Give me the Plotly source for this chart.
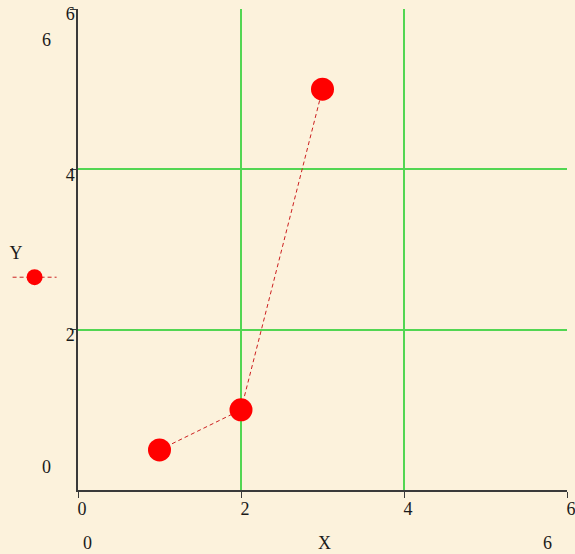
import plotly.graph_objects as go

# Series values
x_vals = [1, 2, 3]
y_vals = [0.5, 1, 5]

# Axis limits and ticks
x_range = [0, 6]
y_range = [0, 6]
x_ticks = [0, 2, 4, 6]
y_ticks = [2, 4, 6]

bg = "#fcf2dc"
grid = "#52d652"
axis_col = "#3a3a3a"
font = dict(family="Liberation Serif, Times New Roman, serif", size=18, color="#1a1a1a")

fig = go.Figure()
fig.add_trace(go.Scatter(
    x=x_vals, y=y_vals, mode="lines+markers", name="",
    line=dict(color="#cc1f1f", width=1, dash="4px,3px"),
    marker=dict(color="#ff0000", size=23, line=dict(width=0)),
    showlegend=True,
))

fig.update_layout(
    width=575, height=554,
    margin=dict(l=78, r=8, t=9, b=64, autoexpand=False),
    paper_bgcolor=bg, plot_bgcolor=bg,
    font=font,
    showlegend=True,
    legend=dict(
        x=-0.144, y=0.4665, xanchor="left", yanchor="middle",
        bgcolor="rgba(0,0,0,0)",
        title=dict(text="Y", side="top", font=font),
        itemwidth=44,
    ),
)

fig.update_xaxes(
    range=x_range, tickvals=x_ticks, ticktext=[str(v) for v in x_ticks],
    showgrid=True, gridcolor=grid, gridwidth=1.5, zeroline=False,
    showline=True, linecolor=axis_col, linewidth=1.5,
    ticks="outside", ticklen=6, tickcolor=axis_col, tickwidth=1,
    ticklabelshift=4, ticklabelstandoff=-4, tickfont=font,
    ticklabeloverflow="allow", automargin=False,
)
fig.update_yaxes(
    range=y_range, tickvals=y_ticks, ticktext=[str(v) for v in y_ticks],
    showgrid=True, gridcolor=grid, gridwidth=1.5, zeroline=False,
    showline=True, linecolor=axis_col, linewidth=1.5,
    ticks="outside", ticklen=6, tickcolor=axis_col, tickwidth=1,
    ticklabelstandoff=-8, ticklabelshift=5, tickfont=font,
    ticklabeloverflow="allow", automargin=False,
)

# Range limit labels beside the axes
limits = [
    dict(x=-0.064, y=0.935, text=str(y_range[1])),
    dict(x=-0.064, y=0.048, text=str(y_range[0])),
    dict(x=0.019, y=-0.11, text=str(x_range[0])),
    dict(x=0.961, y=-0.11, text=str(x_range[1])),
    dict(x=0.505, y=-0.11, text="X"),
]
for a in limits:
    fig.add_annotation(xref="paper", yref="paper", x=a["x"], y=a["y"],
                       text=a["text"], showarrow=False, font=font,
                       xanchor="center", yanchor="middle")

fig.write_html("out.html")
